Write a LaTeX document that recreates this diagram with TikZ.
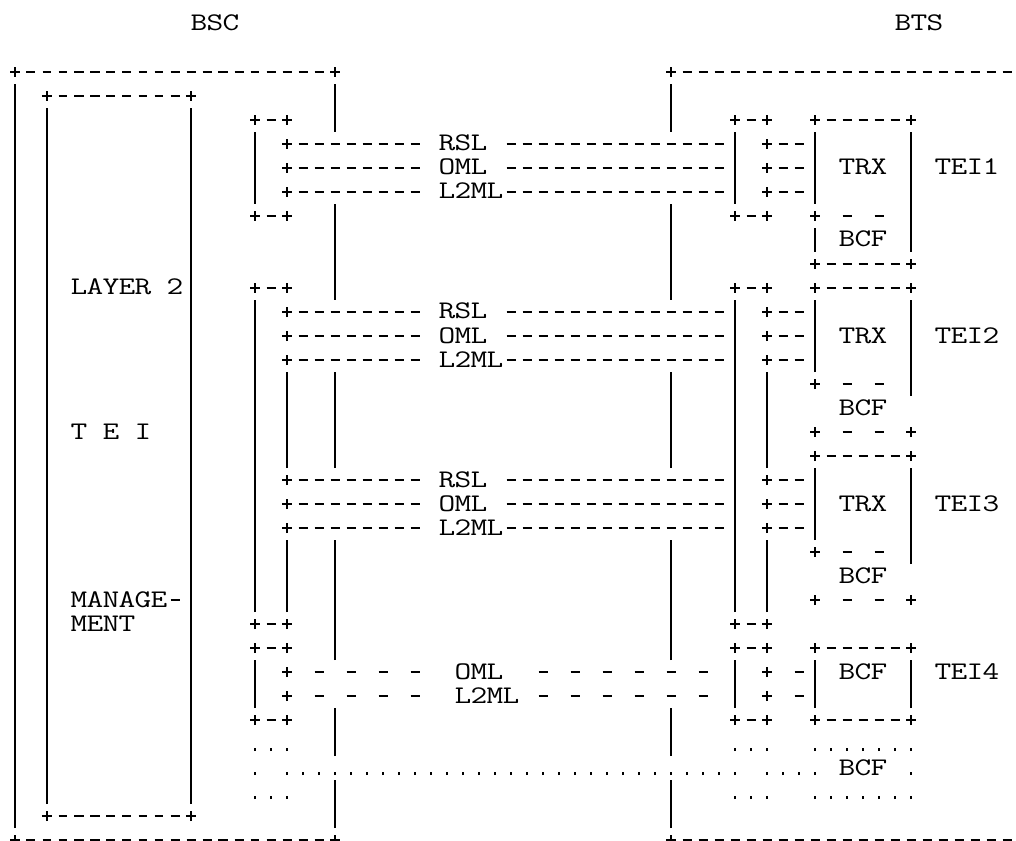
\documentclass[tikz,border=0pt]{standalone}
\usepackage{graphicx}
\makeatletter
\def\ascSp{*}\def\ascBar{|}\def\ascDash{-}\def\ascPlus{+}\def\ascDot{.}
\newcommand\asccell{%
 \ifx\ascch\ascSp\hbox to 12pt{}%
 \else\ifx\ascch\ascBar\hbox to 12pt{\hss\rule[-3.75pt]{1.1pt}{18pt}\hss}%
 \else\ifx\ascch\ascDash\hbox to 12pt{\hss\rule[4.7pt]{6.75pt}{1.1pt}\hss}%
 \else\ifx\ascch\ascPlus\hbox to 12pt{\hss\rule[4.7pt]{7.5pt}{1.1pt}\hss}\hskip-12pt\hbox to 12pt{\hss\rule[1.5pt]{1.1pt}{7.5pt}\hss}%
 \else\ifx\ascch\ascDot\hbox to 12pt{\hss\rule{1.9pt}{1.9pt}\hss}%
 \else\hbox to 12pt{\hss\scalebox{1.28}[1]{\ascch}\hss}%
 \fi\fi\fi\fi\fi}
\def\ascdo#1{\@tfor\ascch:=#1\do{\asccell}}
\newcommand\asciirow[1]{\edef\ascrow{#1}\expandafter\ascdo\expandafter{\ascrow}}
\makeatother
% row fragments (* = blank cell)
\def\aP{|*|********|***}
\def\aT{********************}
\def\aL{|*+--------*}
\def\aD{--------------}
\def\aRt{|*+--|}
\begin{document}
\begin{tikzpicture}[x=0.75pt,y=-0.75pt,
  asc/.style={anchor=base west,inner sep=0pt,outer sep=0pt,font=\ttfamily\fontsize{19pt}{18pt}\selectfont}]
\fill[white] (0,0) rectangle (1016,841);
\useasboundingbox (0,0) rectangle (1016,841);
\clip (0,0) rectangle (1016,841);
\node[asc] (bsc) at (191,31) {\asciirow{BSC}};
\node[asc] (bts) at (895,31) {\asciirow{BTS}};
\node[asc] (r2) at (7,79) {\asciirow{+-------------------+\aT+----------------------}};
\node[asc] (r3) at (7,103) {\asciirow{|*+--------+********|\aT|}};
\node[asc] (r4) at (7,127) {\asciirow{\aP+-+**|\aT|***+-+**+-----+}};
\node[asc] (r5) at (7,151) {\asciirow{\aP\aL RSL*\aD\aRt*****|}};
\node[asc] (r6) at (7,175) {\asciirow{\aP\aL OML*\aD\aRt*TRX*|*TEI1}};
\node[asc] (r7) at (7,199) {\asciirow{\aP\aL L2ML\aD\aRt*****|}};
\node[asc] (r8) at (7,223) {\asciirow{\aP+-+**|\aT|***+-+**+*-*-*|}};
\node[asc] (r9) at (7,247) {\asciirow{\aP*****|\aT|********|*BCF*|}};
\node[asc] (r10) at (7,271) {\asciirow{\aP*****|\aT|********+-----+}};
\node[asc] (r11) at (7,295) {\asciirow{|*|*LAYER*2|***+-+**|\aT|***+-+**+-----+}};
\node[asc] (r12) at (7,319) {\asciirow{\aP\aL RSL*\aD\aRt*****|}};
\node[asc] (r13) at (7,343) {\asciirow{\aP\aL OML*\aD\aRt*TRX*|*TEI2}};
\node[asc] (r14) at (7,367) {\asciirow{\aP\aL L2ML\aD\aRt*****|}};
\node[asc] (r15) at (7,391) {\asciirow{\aP|*|**|\aT|***|*|**+*-*-*|}};
\node[asc] (r16) at (7,415) {\asciirow{\aP|*|**|\aT|***|*|****BCF}};
\node[asc] (r17) at (7,439) {\asciirow{|*|*T*E*I**|***|*|**|\aT|***|*|**+*-*-*+}};
\node[asc] (r18) at (7,463) {\asciirow{\aP|*|**|\aT|***|*|**+-----+}};
\node[asc] (r19) at (7,487) {\asciirow{\aP\aL RSL*\aD\aRt*****|}};
\node[asc] (r20) at (7,511) {\asciirow{\aP\aL OML*\aD\aRt*TRX*|*TEI3}};
\node[asc] (r21) at (7,535) {\asciirow{\aP\aL L2ML\aD\aRt*****|}};
\node[asc] (r22) at (7,559) {\asciirow{\aP|*|**|\aT|***|*|**+*-*-*|}};
\node[asc] (r23) at (7,583) {\asciirow{\aP|*|**|\aT|***|*|****BCF}};
\node[asc] (r24) at (7,607) {\asciirow{|*|*MANAGE-|***|*|**|\aT|***|*|**+*-*-*+}};
\node[asc] (r25) at (7,631) {\asciirow{|*|*MENT***|***+-+**|\aT|***+-+}};
\node[asc] (r26) at (7,655) {\asciirow{\aP+-+**|\aT|***+-+**+-----+}};
\node[asc] (r27) at (7,679) {\asciirow{\aP|*+*-*-*-*-**OML**-*-*-*-*-*-*|*+*-|*BCF*|*TEI4}};
\node[asc] (r28) at (7,703) {\asciirow{\aP|*+*-*-*-*-**L2ML*-*-*-*-*-*-*|*+*-|*****|}};
\node[asc] (r29) at (7,727) {\asciirow{\aP+-+**|\aT|***+-+**+-----+}};
\node[asc] (r30) at (7,751) {\asciirow{\aP...**|\aT|***...**.......}};
\node[asc] (r31) at (7,775) {\asciirow{\aP.*.............................*....*BCF*.}};
\node[asc] (r32) at (7,799) {\asciirow{\aP...**|\aT|***...**.......}};
\node[asc] (r33) at (7,823) {\asciirow{|*+--------+********|\aT|}};
\node[asc] (r34) at (7,847) {\asciirow{+-------------------+\aT+----------------------}};
\end{tikzpicture}
\end{document}
